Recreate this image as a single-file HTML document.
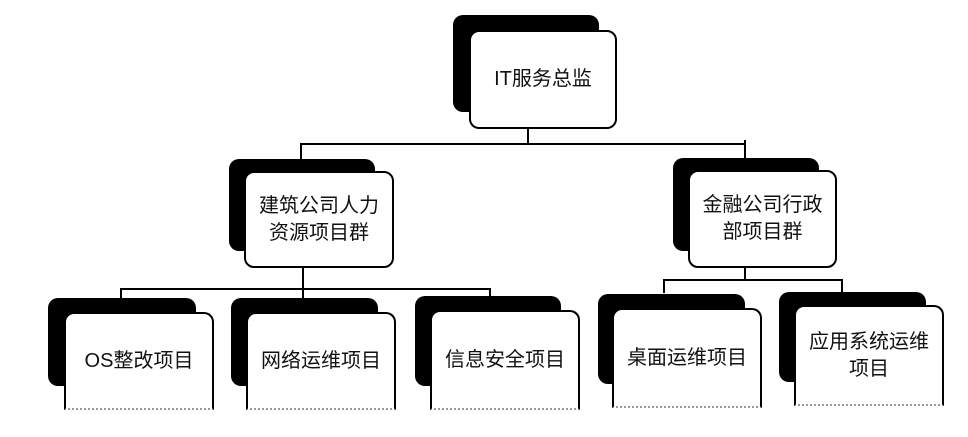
<!DOCTYPE html>
<html><head><meta charset="utf-8"><style>
body{margin:0;width:968px;height:437px;background:#fff;position:relative;overflow:hidden;font-family:"Liberation Sans","Noto Sans CJK SC",sans-serif}
.s{position:absolute;background:#000;border-radius:10px}
.f{position:absolute;background:#fff;border:2px solid #000;border-radius:10px;box-sizing:border-box;display:flex;align-items:center;justify-content:center;text-align:center;font-size:20px;line-height:27px;color:#111}
.o{border-bottom:2px dotted #999;border-radius:10px 10px 0 0}
.l{position:absolute;background:#000}
</style></head><body>
<!-- connectors -->
<div class="l" style="left:527px;top:128px;width:2px;height:17px"></div>
<div class="l" style="left:300px;top:143px;width:446px;height:2px"></div>
<div class="l" style="left:300px;top:143px;width:2px;height:17px"></div>
<div class="l" style="left:744px;top:140px;width:2px;height:18px"></div>
<div class="l" style="left:302px;top:267px;width:2px;height:32px"></div>
<div class="l" style="left:120px;top:288px;width:371px;height:2px"></div>
<div class="l" style="left:120px;top:288px;width:2px;height:12px"></div>
<div class="l" style="left:489px;top:288px;width:2px;height:12px"></div>
<div class="l" style="left:744px;top:267px;width:2px;height:14px"></div>
<div class="l" style="left:663px;top:279px;width:180px;height:2px"></div>
<div class="l" style="left:663px;top:279px;width:2px;height:14px"></div>
<div class="l" style="left:841px;top:279px;width:2px;height:14px"></div>

<div class="s" style="left:453px;top:15px;width:146px;height:97px"></div>
<div class="f" style="left:469px;top:30px;width:148px;height:99px">IT服务总监</div>

<div class="s" style="left:229px;top:159px;width:146px;height:92px"></div>
<div class="f" style="left:244px;top:171px;width:150px;height:97px">建筑公司人力<br>资源项目群</div>

<div class="s" style="left:673px;top:158px;width:146px;height:93px"></div>
<div class="f" style="left:688px;top:170px;width:149px;height:98px">金融公司行政<br>部项目群</div>

<div class="s" style="left:48px;top:298px;width:148px;height:88px"></div>
<div class="f o" style="left:64px;top:312px;width:150px;height:98px">OS整改项目</div>

<div class="s" style="left:231px;top:298px;width:147px;height:88px"></div>
<div class="f o" style="left:246px;top:312px;width:150px;height:98px">网络运维项目</div>

<div class="s" style="left:415px;top:296px;width:146px;height:90px"></div>
<div class="f o" style="left:430px;top:310px;width:150px;height:100px">信息安全项目</div>

<div class="s" style="left:598px;top:294px;width:147px;height:90px"></div>
<div class="f o" style="left:612px;top:308px;width:150px;height:100px">桌面运维项目</div>

<div class="s" style="left:779px;top:292px;width:147px;height:90px"></div>
<div class="f o" style="left:794px;top:305px;width:150px;height:101px">应用系统运维<br>项目</div>
</body></html>
